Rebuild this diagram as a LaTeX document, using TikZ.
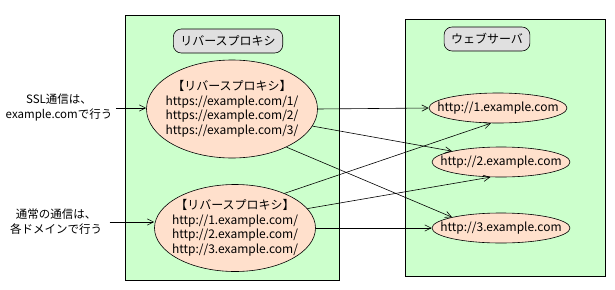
\documentclass[tikz,border=0pt]{standalone}
\usepackage{fontspec}
\setmainfont{Noto Sans CJK JP}
\usepackage{xcolor}
\usetikzlibrary{arrows.meta, positioning, shapes.geometric}

\definecolor{zonegreen}{HTML}{CCFFCC}
\definecolor{peach}{HTML}{FFE0CC}
\definecolor{taggray}{HTML}{E0E0E0}

\begin{document}
\begin{tikzpicture}[
			x=1pt, y=-1pt,
			every node/.style={font=\fontsize{12}{14.5}\selectfont},
			zone/.style={
				rectangle, draw=black, fill=zonegreen,
				line width=0.8pt, anchor=north west
			},
			tag/.style={
				rectangle, rounded corners=8pt,
				draw=black, fill=taggray, line width=0.6pt,
				minimum height=24pt, inner xsep=7pt
			},
			proxy/.style={
				ellipse, draw=black, fill=peach, line width=0.6pt,
				inner xsep=-15pt, inner ysep=0pt, align=center
			},
			server/.style={
				ellipse, draw=black, fill=peach, line width=0.6pt,
				inner xsep=-15pt, inner ysep=0pt,
				minimum width=138pt, minimum height=30pt
			},
			arrow/.style={
				-{Straight Barb[length=2.2mm,width=2.2mm]},
				line width=0.6pt, draw=black
			},
			note/.style={align=center, font=\fontsize{11.5}{15}\selectfont}
			]
			
			\useasboundingbox (0,0) rectangle (615,289);
			
			% Zones
			\node[zone, minimum width=214pt, minimum height=265pt] (proxyzone) at (125,15) {};
			\node[zone, minimum width=200pt, minimum height=257pt] (webzone)   at (405,19) {};
			\node[tag] (proxytag) at (228,41) {リバースプロキシ};
			\node[tag] (webtag)   at (487,39) {ウェブサーバ};
			
			% Proxies
			\node[proxy, minimum width=171pt, minimum height=98pt] (ssl) at (232,109)
			{【リバースプロキシ】\\https://example.com/1/\\https://example.com/2/\\https://example.com/3/};
			\node[proxy, minimum width=161pt, minimum height=87pt] (plain) at (235,228)
			{【リバースプロキシ】\\http://1.example.com/\\http://2.example.com/\\http://3.example.com/};
			
			% Servers
			\node[server] (web1) at (498,108) {http://1.example.com};
			\node[server] (web2) at (501,162) {http://2.example.com};
			\node[server] (web3) at (501,228) {http://3.example.com};
			
			% Notes
			\node[note] (sslnote)   at (59,108) {SSL通信は、\\example.comで行う};
			\node[note] (plainnote) at (56,222) {通常の通信は、\\各ドメインで行う};
			
			% Arrows
			\draw[arrow] (sslnote.east)   -- (sslnote.east -| ssl.west);
			\draw[arrow] ([xshift=4pt]plainnote.east) -- (plainnote.east -| plain.west);
			\draw[arrow] (ssl.east)       -- (web1.west);
			\draw[arrow] (ssl.-12)        -- (web2.north west);
			\draw[arrow] (ssl.-35)        -- (web3.north west);
			\draw[arrow] (plain.35)       -- (web1.-115);
			\draw[arrow] (plain.15)       -- (web2.-125);
			\draw[arrow] (plain.east)     -- (web3.west);
			
		\end{tikzpicture}
\end{document}
